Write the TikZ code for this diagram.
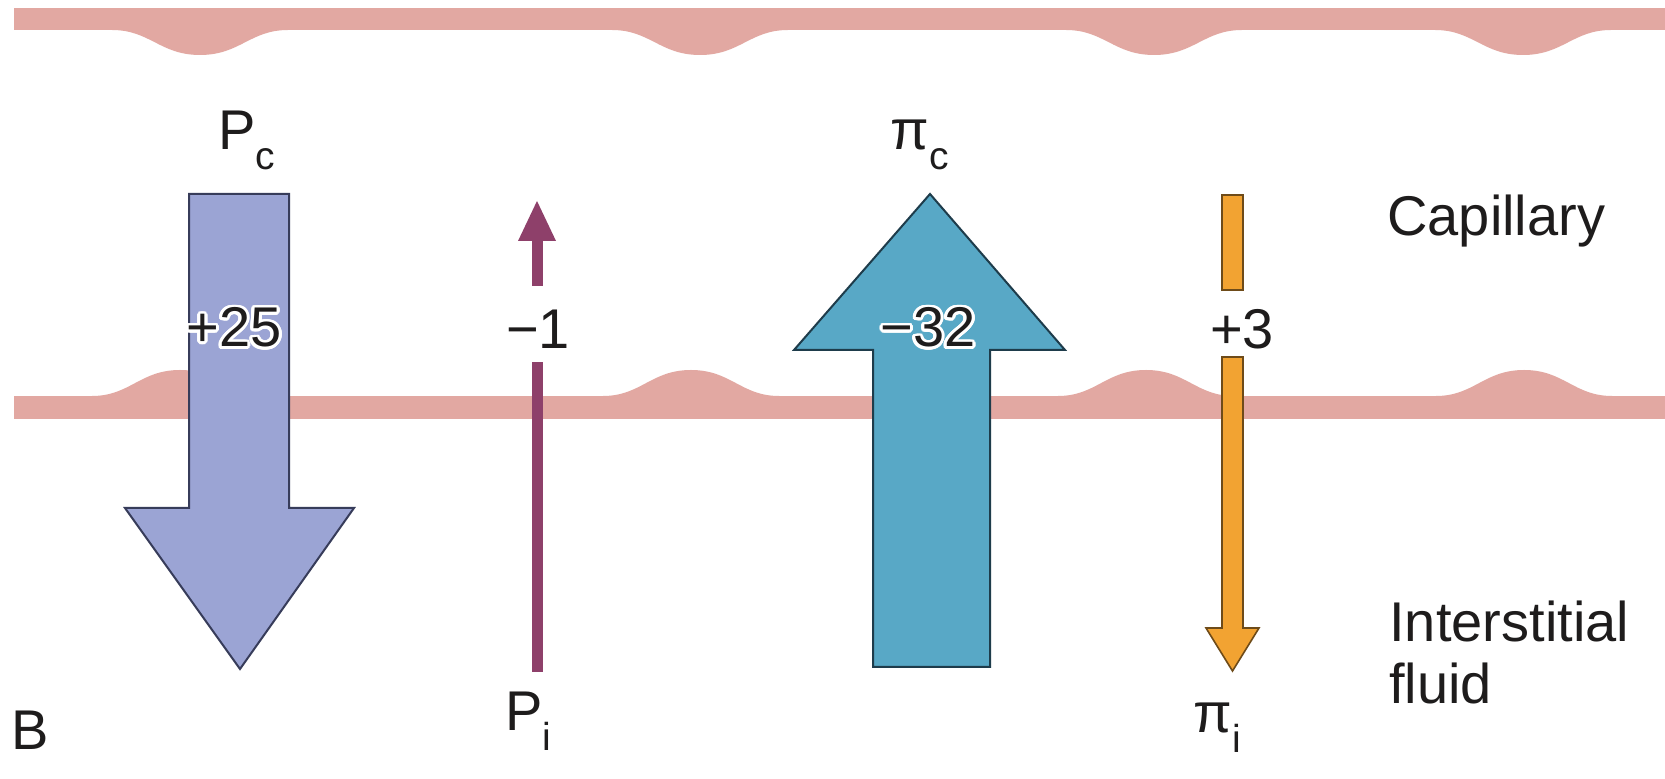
\documentclass[tikz,border=0pt]{standalone}
\usepackage{fontspec}
\setmainfont{Liberation Sans}
\usepackage[copies]{contour}
\contourlength{1.4pt}
\contournumber{24}
\definecolor{membrane}{RGB}{226,168,162}
\definecolor{lavfill}{RGB}{155,164,212}
\definecolor{lavedge}{RGB}{55,60,90}
\definecolor{tealfill}{RGB}{88,168,198}
\definecolor{tealedge}{RGB}{30,60,75}
\definecolor{plum}{RGB}{142,64,106}
\definecolor{orangefill}{RGB}{242,163,50}
\definecolor{orangeedge}{RGB}{110,75,25}
\definecolor{ink}{RGB}{30,28,28}
\newcommand\subs[1]{\raisebox{-0.34em}{\fontsize{19.5}{20}\selectfont #1}}
\begin{document}
\begin{tikzpicture}[x=0.5pt,y=-0.5pt,
  lbl/.style={inner sep=0pt, text=ink, font=\fontsize{28}{32}\selectfont, anchor=base west},
  numlab/.style={inner sep=0pt, text=ink, font=\fontsize{28}{32}\selectfont, anchor=center},
  bigarrow/.style={line width=1pt, line join=miter},
  thinarrow/.style={fill=orangefill, draw=orangeedge, line width=0.8pt, line join=miter}]
\useasboundingbox (0,0) rectangle (1665,779);
\fill[white] (0,0) rectangle (1665,779);
% membranes
\fill[membrane] (14,8) rectangle (1665,30);
\foreach \c in {200,700,1154,1523}
  \fill[membrane] (\c-88,24) -- (\c-88,30) .. controls (\c-50,30) and (\c-40,55) .. (\c,55)
     .. controls (\c+40,55) and (\c+50,30) .. (\c+88,30) -- (\c+88,24) -- cycle;
\fill[membrane] (14,396) rectangle (1665,419);
\foreach \c in {180,691,1146,1524}
  \fill[membrane] (\c-88,402) -- (\c-88,396) .. controls (\c-50,396) and (\c-40,370) .. (\c,370)
     .. controls (\c+40,370) and (\c+50,396) .. (\c+88,396) -- (\c+88,402) -- cycle;
% P_c arrow (down)
\filldraw[bigarrow, fill=lavfill, draw=lavedge] (189,194) -- (289,194) -- (289,508) -- (354,508)
  -- (240,669) -- (125,508) -- (189,508) -- cycle;
% pi_c arrow (up)
\filldraw[bigarrow, fill=tealfill, draw=tealedge] (873,667) -- (873,350) -- (794,350) -- (930,194)
  -- (1065,350) -- (990,350) -- (990,667) -- cycle;
% P_i arrow (up)
\fill[plum] (537,201) -- (556,241) -- (518,241) -- cycle;
\fill[plum] (531.5,240) rectangle (542.5,286);
\fill[plum] (531.5,362) rectangle (542.5,672);
% pi_i arrow (down)
\filldraw[thinarrow] (1222,195) rectangle (1243,290);
\filldraw[thinarrow] (1222,357) -- (1243,357) -- (1243,628) -- (1259,628) -- (1232.5,671)
  -- (1206,628) -- (1222,628) -- cycle;
% labels
\node[lbl] (pc) at (218,150) {P\subs{c}};
\node[lbl] (pic) at (890,150) {π\subs{c}};
\node[lbl] (pi) at (505,731) {P\subs{i}};
\node[lbl] (pii) at (1193,733) {π\subs{i}};
\node[numlab] (v25) at (234,329) {\contour{white}{+25}};
\node[numlab] (v1) at (538,329) {−1};
\node[numlab] (v32) at (928,329) {\contour{white}{−32}};
\node[numlab] (v3) at (1242,329) {+3};
\node[lbl] (cap) at (1387,236) {Capillary};
\node[lbl] (inter) at (1389,642) {Interstitial};
\node[lbl] (fluid) at (1389,704) {fluid};
\node[lbl] (B) at (11,749) {B};
\end{tikzpicture}
\end{document}
